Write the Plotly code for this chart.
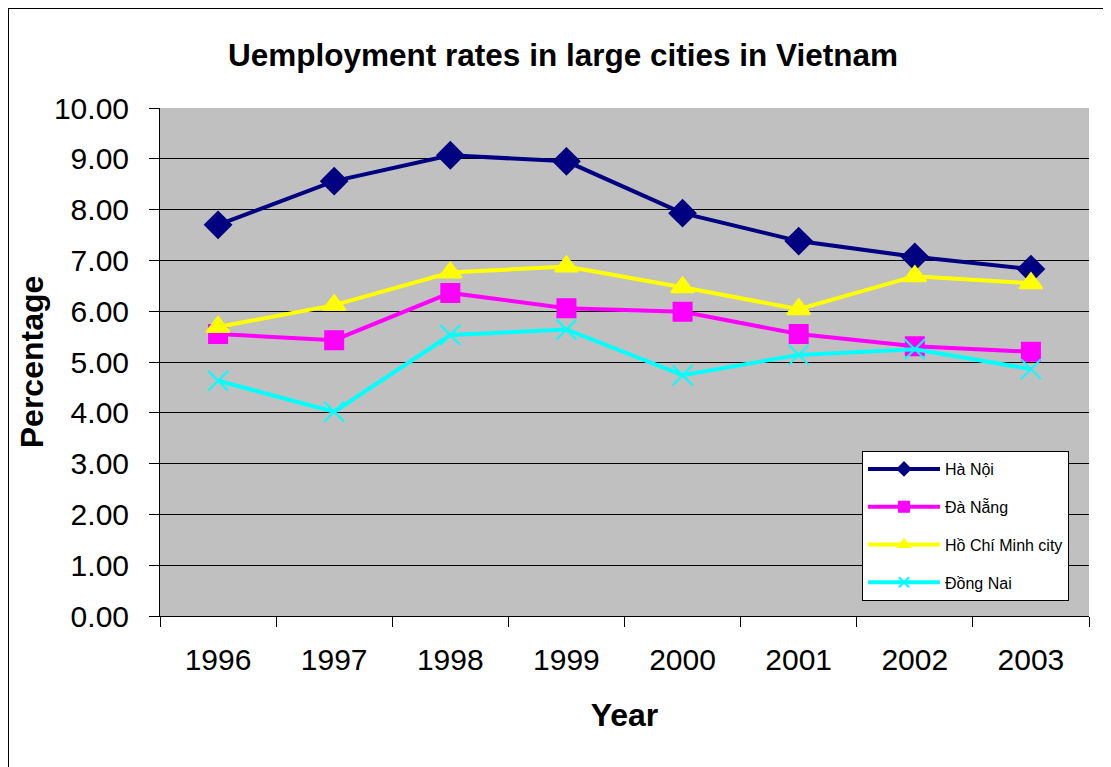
import plotly.graph_objects as go

years = ["1996", "1997", "1998", "1999", "2000", "2001", "2002", "2003"]
ha_noi = [7.70, 8.56, 9.07, 8.95, 7.93, 7.38, 7.07, 6.83]
da_nang = [5.55, 5.43, 6.36, 6.06, 5.99, 5.55, 5.31, 5.20]
hcm = [5.69, 6.12, 6.76, 6.88, 6.47, 6.04, 6.69, 6.55]
dong_nai = [4.63, 4.02, 5.53, 5.64, 4.74, 5.14, 5.25, 4.86]

series = [
    ("Hà Nội", ha_noi, "#000080", "diamond", 20),
    ("Đà Nẵng", da_nang, "#FF00FF", "square", 18),
    ("Hồ Chí Minh city", hcm, "#FFFF00", "triangle-up", 20),
    ("Đồng Nai", dong_nai, "#00FFFF", "x-thin-open", 20),
]

fig = go.Figure()
for i, (name, vals, color, sym, size) in enumerate(series):
    fig.add_trace(go.Scatter(
        x=years, y=vals, name=name, mode="lines+markers",
        line=dict(color=color, width=4),
        marker=dict(symbol=sym, size=size, color=color,
                    line=dict(color=color, width=2)),
        legendgroup=f"g{i}", showlegend=False,
    ))
    # legend entry with smaller marker, as in the original
    fig.add_trace(go.Scatter(
        x=[years[0]], y=[None], name=name, mode="lines+markers",
        line=dict(color=color, width=4),
        marker=dict(symbol=sym, size=10, color=color,
                    line=dict(color=color, width=2)),
        legendgroup=f"g{i}", showlegend=True, hoverinfo="skip",
    ))

# page has an 8px body margin; figure is sized/offset to compensate
fig.update_layout(
    width=1103, height=759,
    margin=dict(l=152, r=22, t=100, b=151),
    paper_bgcolor="white", plot_bgcolor="#C0C0C0",
    font=dict(family="Arial, Liberation Sans, sans-serif", color="black"),
    title=dict(text="<b>Uemployment rates in large cities in Vietnam</b>",
               x=(563 - 8) / 1103, xanchor="center", y=1 - 47 / 759, yanchor="middle",
               font=dict(size=31.5, color="black")),
    showlegend=True,
    legend=dict(
        x=(862 - 160) / 929, y=(616 - 451) / 508, xanchor="left", yanchor="top",
        bgcolor="white", bordercolor="black", borderwidth=1,
        font=dict(size=16, color="black"),
        tracegroupgap=14, itemwidth=72,
    ),
    xaxis=dict(
        type="category", showgrid=False, tickson="boundaries",
        ticks="outside", ticklen=10, tickcolor="black",
        showline=True, linecolor="black", linewidth=1,
        tickfont=dict(size=30), ticklabelstandoff=17,
        title=dict(text="<b>Year</b>", font=dict(size=32), standoff=28),
        range=[-0.5, 7.5],
    ),
    yaxis=dict(
        range=[0, 10], dtick=1, tickformat=".2f",
        showgrid=True, gridcolor="black", gridwidth=1,
        ticks="outside", ticklen=10, tickcolor="black",
        showline=True, linecolor="black", linewidth=1,
        tickfont=dict(size=30), ticklabelstandoff=14,
        zeroline=False,
        title=dict(text="<b>Percentage</b>", font=dict(size=32), standoff=0),
    ),
)

fig.add_shape(type="rect", xref="paper", yref="paper",
              x0=-152 / 929, x1=(1130 - 160) / 929,
              y0=(616 - 790) / 508, y1=(616 - 8) / 508,
              line=dict(color="black", width=2), fillcolor="rgba(0,0,0,0)",
              layer="below")

fig.write_html("out.html")
